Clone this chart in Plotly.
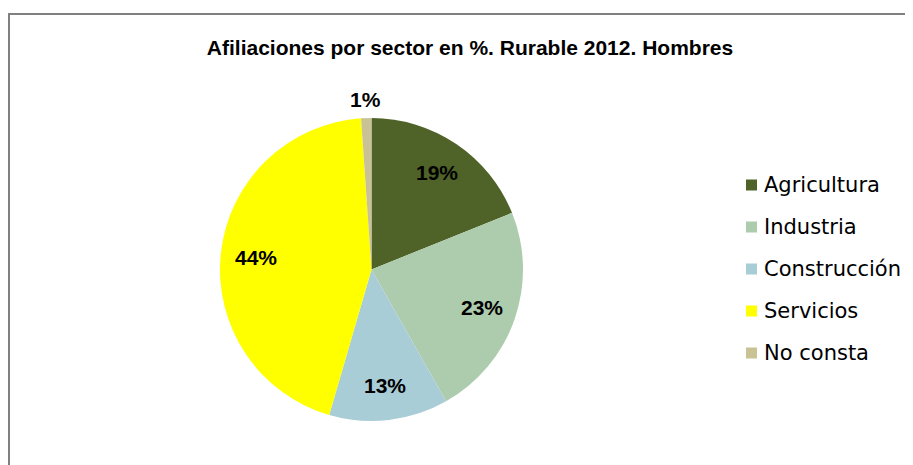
import math
import plotly.graph_objects as go

# datos (porcentaje de afiliaciones, hombres)
sectores = ["Agricultura", "Industria", "Construcción", "Servicios", "No consta"]
porcentajes = [18.9, 22.9, 12.7, 44.4, 1.1]
colores = ["#4F6228", "#ADCBAD", "#A9CDD7", "#FFFF00", "#C9C295"]
# distancia de la etiqueta al centro, en fracción del radio (la última va fuera)
radio_etiqueta = [0.77, 0.77, 0.77, 0.77, 1.12]

W, H = 913, 465
OFF = 8  # margen por defecto del <body> en la página
FW, FH = W - OFF, H - OFF  # tamaño de la figura para llenar la ventana


def px(x):
    return (x - OFF) / FW


def py(y):
    return 1 - (y - OFF) / FH


# geometría de la tarta en píxeles de la imagen
cx, cy, r = 371.5, 269.5, 151.5

fig = go.Figure()

fig.add_trace(go.Pie(
    labels=sectores,
    values=porcentajes,
    marker=dict(colors=colores, line=dict(width=0)),
    sort=False,
    direction="clockwise",
    rotation=0,
    textinfo="none",
    automargin=False,
    showlegend=False,
    hoverinfo="label+percent",
    domain=dict(x=[px(cx - r), px(cx + r)], y=[py(cy + r), py(cy - r)]),
))

shapes = [
    # marco gris del gráfico (solo visibles borde superior e izquierdo)
    dict(type="rect", xref="paper", yref="paper",
         x0=px(9), x1=1.05, y0=-0.05, y1=py(14),
         line=dict(color="#808080", width=2), fillcolor="rgba(0,0,0,0)", layer="below"),
]
annotations = []

# etiquetas de porcentaje en el ángulo medio de cada sector
total = sum(porcentajes)
acum = 0
for v, f in zip(porcentajes, radio_etiqueta):
    ang = 2 * math.pi * (acum + v / 2) / total
    acum += v
    x = cx + f * r * math.sin(ang)
    y = cy - f * r * math.cos(ang)
    annotations.append(dict(text=f"<b>{round(100 * v / total)}%</b>", xref="paper", yref="paper",
                            x=px(x), y=py(y), xanchor="center", yanchor="middle",
                            showarrow=False,
                            font=dict(family="Liberation Sans", size=21, color="black")))

# leyenda dibujada a mano (cuadrado + texto), separación igual que en el original
for i, (nombre, color) in enumerate(zip(sectores, colores)):
    yc = 185 + 42 * i
    shapes.append(dict(type="rect", xref="paper", yref="paper",
                       x0=px(746), x1=px(757),
                       y0=py(yc + 5.5), y1=py(yc - 5.5),
                       fillcolor=color, line=dict(width=0)))
    annotations.append(dict(text=nombre, xref="paper", yref="paper",
                            x=px(762), y=py(yc), xanchor="left", yanchor="middle",
                            showarrow=False,
                            font=dict(family="DejaVu Sans", size=21, color="black")))

fig.update_layout(
    width=FW, height=FH,
    margin=dict(l=0, r=0, t=0, b=0),
    paper_bgcolor="white",
    plot_bgcolor="white",
    title=dict(text="<b>Afiliaciones por sector en %. Rurable 2012. Hombres</b>",
               x=px(470), xanchor="center", y=py(48), yanchor="middle",
               font=dict(family="Liberation Sans", size=21, color="black")),
    shapes=shapes,
    annotations=annotations,
)

fig.write_html("out.html")
